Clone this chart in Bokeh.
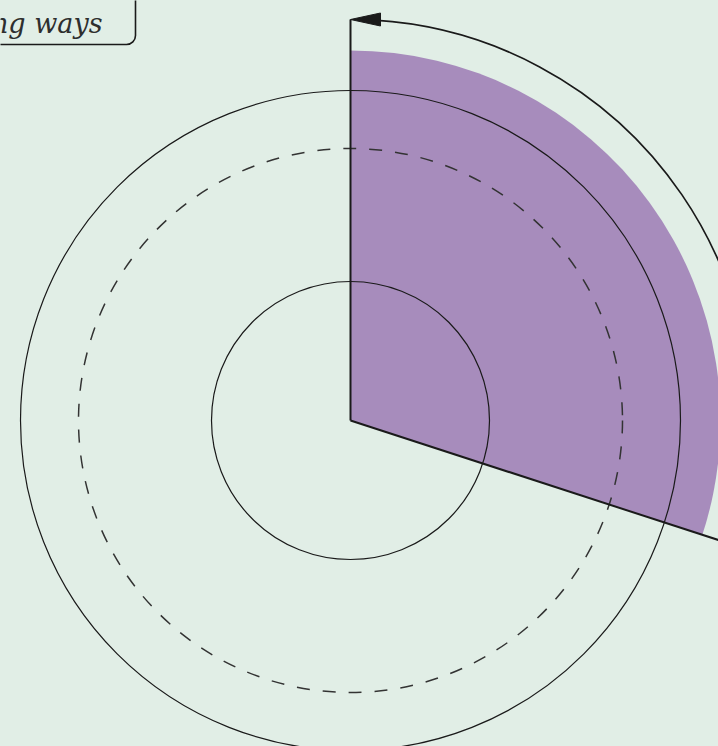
import math
from bokeh.plotting import figure
from bokeh.models import Range1d, BoxAnnotation
from bokeh.core.properties import value
from bokeh.embed import file_html
from bokeh.resources import INLINE

# ---- data (pixel-like units, centre at origin) ----
sweep_start_deg = -18.0      # end of the shaded sweep (measured counter-clockwise from east)
sweep_end_deg = 90.0         # start of the sweep (north)
wedge_radius = 370
circle_radii = [139, 330]
dashed_radius = 272
arrow_radius = 401
title_text = "Angles measured in opposing ways"

BG = "#e1eee6"
PURPLE = "#a78cbc"
INK = "#1a1a1a"

p = figure(width=718, height=746, output_backend="svg", toolbar_location=None,
           x_range=Range1d(-350, 368), y_range=Range1d(-326, 420),
           min_border=0, background_fill_color=BG, border_fill_color=BG,
           outline_line_color=None)
p.axis.visible = False
p.grid.visible = False

a0 = math.radians(sweep_start_deg)
a1 = math.radians(sweep_end_deg)

# shaded wedge
p.wedge(x=[0], y=[0], radius=[wedge_radius], start_angle=[a0], end_angle=[a1],
        fill_color=PURPLE, line_color=None)

# reference circles
p.circle(x=[0] * len(circle_radii), y=[0] * len(circle_radii), radius=circle_radii,
         fill_color=None, line_color=INK, line_width=1.2)
p.circle(x=[0], y=[0], radius=[dashed_radius], fill_color=None,
         line_color="#333333", line_width=1.5, line_dash="13 13")

# arrow arc
head_len, head_w = 30, 13
p.arc(x=[0], y=[0], radius=[arrow_radius], start_angle=[a0],
      end_angle=[a1 - head_len / arrow_radius * 0.8],
      line_color=INK, line_width=1.7)
tip_x, tip_y = arrow_radius * math.cos(a1), arrow_radius * math.sin(a1)
p.patch(x=[tip_x, tip_x + head_len, tip_x + head_len],
        y=[tip_y, tip_y + head_w / 2, tip_y - head_w / 2],
        fill_color=INK, line_color=INK, line_width=1)

# radial lines
p.line(x=[0, tip_x], y=[0, tip_y], line_color=INK, line_width=2)
far = arrow_radius * 1.15
p.line(x=[0, far * math.cos(a0)], y=[0, far * math.sin(a0)], line_color=INK, line_width=2)

# title box (rounded, partly off the page)
box = BoxAnnotation(left=-420, right=-215, top=440, bottom=376,
                    fill_alpha=0, line_color=INK, line_alpha=1, line_width=1.6,
                    border_radius=9, level="underlay")
p.add_layout(box)
p.text(x=[-248], y=[397], text=[title_text], text_align="right",
       text_baseline="alphabetic", text_font=value("DejaVu Serif"),
       text_font_style="italic", text_font_size="27px", text_color="#2e2e2e")

html = file_html(p, INLINE)
html = html.replace("<head>", "<head><style>body{background:%s;}</style>" % BG, 1)
open("out.html", "w").write(html)
